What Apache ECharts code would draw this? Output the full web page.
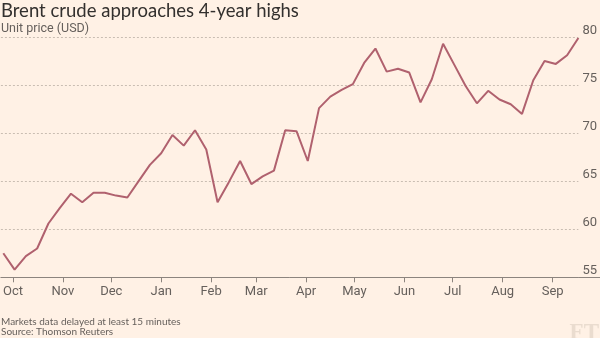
<!DOCTYPE html>
<html>
<head>
<meta charset="utf-8">
<script src="https://cdn.jsdelivr.net/npm/echarts@6/dist/echarts.min.js"></script>
<style>
  html, body { margin: 0; padding: 0; background: #fff1e5; }
  #chart { width: 600px; height: 338px; }
</style>
</head>
<body>
<div id="chart"></div>
<script>
// Weekly Brent crude closing prices (USD per barrel)
const weekDates = [
  '2017-09-25', '2017-10-02', '2017-10-09', '2017-10-16', '2017-10-23', '2017-10-30',
  '2017-11-06', '2017-11-13', '2017-11-20', '2017-11-27', '2017-12-04', '2017-12-11',
  '2017-12-18', '2017-12-25', '2018-01-01', '2018-01-08', '2018-01-15', '2018-01-22',
  '2018-01-29', '2018-02-05', '2018-02-12', '2018-02-19', '2018-02-26', '2018-03-05',
  '2018-03-12', '2018-03-19', '2018-03-26', '2018-04-02', '2018-04-09', '2018-04-16',
  '2018-04-23', '2018-04-30', '2018-05-07', '2018-05-14', '2018-05-21', '2018-05-28',
  '2018-06-04', '2018-06-11', '2018-06-18', '2018-06-25', '2018-07-02', '2018-07-09',
  '2018-07-16', '2018-07-23', '2018-07-30', '2018-08-06', '2018-08-13', '2018-08-20',
  '2018-08-27', '2018-09-03', '2018-09-10', '2018-09-17'
];
const brentPrice = [
  57.5, 55.8, 57.2, 58.0, 60.6, 62.2,
  63.7, 62.8, 63.8, 63.8, 63.5, 63.3,
  65.0, 66.7, 67.9, 69.8, 68.7, 70.3,
  68.3, 62.8, 64.9, 67.1, 64.7, 65.5,
  66.1, 70.3, 70.2, 67.1, 72.6, 73.8,
  74.5, 75.1, 77.3, 78.8, 76.4, 76.7,
  76.3, 73.2, 75.6, 79.3, 77.1, 74.9,
  73.1, 74.4, 73.5, 73.0, 72.0, 75.5,
  77.5, 77.2, 78.1, 79.9
];
const monthStarts = [
  '2017-10-01', '2017-11-01', '2017-12-01', '2018-01-01', '2018-02-01', '2018-03-01',
  '2018-04-01', '2018-05-01', '2018-06-01', '2018-07-01', '2018-08-01', '2018-09-01'
];
const monthLabels = ['Oct', 'Nov', 'Dec', 'Jan', 'Feb', 'Mar', 'Apr', 'May', 'Jun', 'Jul', 'Aug', 'Sep'];
const priceTicks = [55, 60, 65, 70, 75, 80];

const FONT = 'Roboto';
const HEAD_FONT = 'Lato';
const TEXT_GREY = '#66605c';
const DAY = 86400000;

// Dates become day numbers so the x axis can be a plain value axis
function toDay(s) {
  const p = s.split(/[- :]/).map(Number);
  return Date.UTC(p[0], p[1] - 1, p[2], p[3] || 0, p[4] || 0) / DAY;
}

const monthDays = monthStarts.map(toDay);
const xMin = toDay('2017-09-23 12:00');
const xMax = toDay(weekDates[weekDates.length - 1]);

const chart = echarts.init(document.getElementById('chart'), null, { renderer: 'canvas' });

chart.setOption({
  backgroundColor: '#fff1e5',
  animation: false,
  title: [
    {
      text: 'Brent crude approaches 4-year highs',
      left: 1, top: 2, padding: 0,
      textStyle: { fontFamily: HEAD_FONT, fontSize: 18.5, fontWeight: 'normal', color: '#33302e' }
    },
    {
      text: 'Unit price (USD)',
      left: 1, top: 22.5, padding: 0,
      textStyle: { fontFamily: FONT, fontSize: 12.5, fontWeight: 'normal', color: TEXT_GREY }
    },
    {
      text: 'Markets data delayed at least 15 minutes',
      left: 1, top: 317, padding: 0,
      textStyle: { fontFamily: HEAD_FONT, fontSize: 10, fontWeight: 'normal', color: TEXT_GREY }
    },
    {
      text: 'Source: Thomson Reuters',
      left: 1, top: 327, padding: 0,
      textStyle: { fontFamily: HEAD_FONT, fontSize: 10, fontWeight: 'normal', color: TEXT_GREY }
    },
    {
      text: 'FT',
      right: 1, top: 322, padding: 0,
      textStyle: { fontFamily: 'Liberation Serif', fontSize: 23, fontWeight: 'bold', color: '#eadccf' }
    }
  ],
  grid: { left: 0, right: 20.7, top: 37, bottom: 60.7, containLabel: false },
  xAxis: {
    type: 'value',
    min: xMin,
    max: xMax,
    axisLine: { show: true, onZero: false, lineStyle: { color: '#8c847e', width: 1 } },
    axisTick: {
      show: true, length: 5, customValues: monthDays,
      lineStyle: { color: '#8c847e', width: 1 }
    },
    axisLabel: {
      customValues: monthDays,
      formatter: function (v) {
        const i = monthDays.findIndex(d => Math.abs(d - v) < 0.01);
        return i >= 0 ? monthLabels[i] : '';
      },
      color: TEXT_GREY, fontFamily: FONT, fontSize: 13, margin: 8
    },
    splitLine: { show: false }
  },
  yAxis: {
    type: 'value',
    position: 'right',
    min: priceTicks[0],
    max: priceTicks[priceTicks.length - 1],
    interval: 5,
    axisLine: { show: false },
    axisTick: { show: false },
    splitLine: { show: true, lineStyle: { color: '#c9bdb2', width: 1, type: [2, 2] } },
    axisLabel: {
      color: TEXT_GREY, fontFamily: FONT, fontSize: 13, lineHeight: 13,
      margin: 4, align: 'left', verticalAlign: 'bottom'
    }
  },
  series: [{
    name: 'Brent crude',
    type: 'line',
    data: weekDates.map((d, i) => [toDay(d), brentPrice[i]]),
    showSymbol: false,
    symbol: 'none',
    lineStyle: { color: '#b0616e', width: 2 },
    z: 3
  }]
});

// Carry the baseline on under the price labels to the right edge
const base = chart.convertToPixel({ gridIndex: 0 }, [xMax, priceTicks[0]]);
const by = Math.round(base[1]) + 0.5;
chart.setOption({
  graphic: [{
    type: 'line',
    shape: { x1: base[0], y1: by, x2: 600, y2: by },
    style: { stroke: '#8c847e', lineWidth: 1 },
    silent: true
  }]
});
</script>
</body>
</html>
